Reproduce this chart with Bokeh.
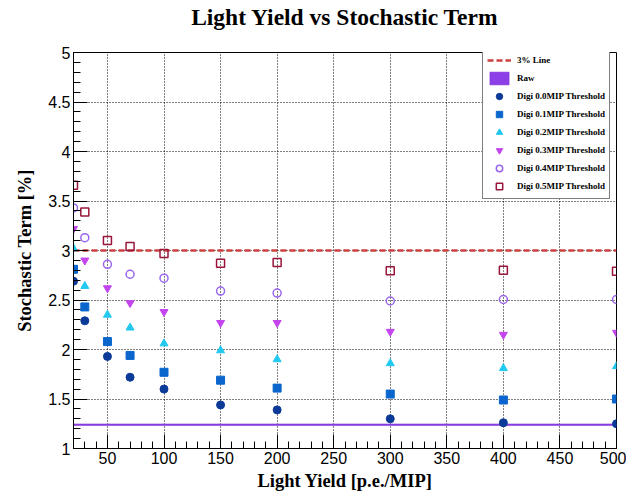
from bokeh.plotting import figure
from bokeh.models import (FixedTicker, CustomJSTickFormatter, Legend, LegendItem,
                          ColumnDataSource, Range1d, Title)
from bokeh.embed import file_html
from bokeh.resources import INLINE

# ---------------- data ----------------
light_yield = [20, 30, 50, 70, 100, 150, 200, 300, 400, 500]
digi_00 = [2.69, 2.29, 1.93, 1.72, 1.60, 1.44, 1.39, 1.30, 1.26, 1.25]
digi_01 = [2.81, 2.43, 2.08, 1.94, 1.77, 1.69, 1.61, 1.55, 1.49, 1.50]
digi_02 = [3.02, 2.64, 2.35, 2.22, 2.06, 1.99, 1.90, 1.86, 1.81, 1.83]
digi_03 = [3.22, 2.90, 2.62, 2.47, 2.38, 2.27, 2.27, 2.18, 2.15, 2.17]
digi_04 = [3.43, 3.13, 2.86, 2.76, 2.72, 2.59, 2.57, 2.49, 2.505, 2.505]
digi_05 = [3.66, 3.39, 3.10, 3.04, 2.97, 2.87, 2.88, 2.795, 2.80, 2.79]

raw_x = [20, 500]
raw_value = 1.24
raw_err = 0.008
line3_x = [20, 500]
line3_y = [3.0, 3.0]

title_text = "Light Yield vs Stochastic Term"
series_labels = ["Digi 0.0MIP Threshold", "Digi 0.1MIP Threshold", "Digi 0.2MIP Threshold",
                 "Digi 0.3MIP Threshold", "Digi 0.4MIP Threshold", "Digi 0.5MIP Threshold"]
x_major = [50, 100, 150, 200, 250, 300, 350, 400, 450, 500]
x_minor = list(range(20, 501, 10))
y_major = [1, 1.5, 2, 2.5, 3, 3.5, 4, 4.5, 5]
y_minor = [round(1 + 0.1 * i, 1) for i in range(41)]

SERIF = "Liberation Serif"
SANS = "Liberation Sans"

p = figure(width=626, height=492, output_backend="svg", toolbar_location=None,
           x_range=Range1d(20, 500), y_range=Range1d(1, 5), title=None,
           min_border_left=73, min_border_right=10, min_border_top=52, min_border_bottom=44)
p.frame_width = 543
p.frame_height = 396
p.background_fill_color = "white"
p.border_fill_color = "white"
p.outline_line_color = "black"
p.outline_line_width = 1

# spacer (nearest the frame) then the real title above it
spacer = Title(text=" ", text_font_size="1px", standoff=20)
main_title = Title(text=title_text, text_font=SERIF, text_font_style="bold",
                   text_font_size="23.5px", align="center", text_color="black", standoff=0)
p.add_layout(spacer, "above")
p.add_layout(main_title, "above")

# axes
for ax in (p.xaxis[0], p.yaxis[0]):
    ax.axis_line_color = "black"
    ax.major_tick_in = 14
    ax.major_tick_out = 0
    ax.minor_tick_in = 7
    ax.minor_tick_out = 0
    ax.major_tick_line_color = "black"
    ax.minor_tick_line_color = "black"
    ax.major_label_text_font = SANS
    ax.major_label_text_font_size = "16px"
    ax.major_label_text_color = "black"
    ax.axis_label_text_font = SERIF
    ax.axis_label_text_font_style = "bold"
    ax.axis_label_text_font_size = "18.5px"
    ax.axis_label_text_color = "black"
    ax.major_label_standoff = 3
    ax.formatter = CustomJSTickFormatter(code="return String(tick);")

p.xaxis.ticker = FixedTicker(ticks=x_major, minor_ticks=x_minor)
p.yaxis.ticker = FixedTicker(ticks=y_major, minor_ticks=y_minor)
p.xaxis.axis_label = "Light Yield [p.e./MIP]"
p.yaxis.axis_label = "Stochastic Term [%]"
p.xaxis.axis_label_standoff = 4
p.yaxis.axis_label_standoff = 10

p.xgrid.ticker = FixedTicker(ticks=x_major)
p.ygrid.ticker = FixedTicker(ticks=y_major)
for g in (p.xgrid[0], p.ygrid[0]):
    g.grid_line_color = "black"
    g.grid_line_dash = "1 2"
    g.grid_line_width = 1

# 3% line and Raw band
r_line = p.line(line3_x, line3_y, line_color="#cc4040", line_width=2.4, line_dash="6 3")
r_raw = p.hbar(y=[raw_value], height=2 * raw_err, left=raw_x[0], right=raw_x[1],
               fill_color="#8c3fe6", line_color="#7a30d0", line_width=0.5,
               hatch_pattern="checker", hatch_color="#c9a6ff", hatch_scale=3, hatch_weight=1)

colors = ["#0b3a98", "#0a66cc", "#21c8f0", "#c444ee", "#9966ee", "#99163a"]
markers = ["circle", "square", "triangle", "inverted_triangle", "circle", "square"]
filled = [True, True, True, True, False, False]
sizes = [8, 8, 8, 8, 8, 8]
series = [digi_00, digi_01, digi_02, digi_03, digi_04, digi_05]

renderers = []
for vals, c, m, f, s in zip(series, colors, markers, filled, sizes):
    src = ColumnDataSource(dict(x=light_yield, y=vals))
    if f:
        r = p.scatter("x", "y", source=src, marker=m, size=s, fill_color=c, line_color=c)
    else:
        r = p.scatter("x", "y", source=src, marker=m, size=s, fill_color=None,
                      line_color=c, line_width=1.5)
    renderers.append(r)

items = [LegendItem(label="3% Line", renderers=[r_line]),
         LegendItem(label="Raw", renderers=[r_raw])]
for lab, r in zip(series_labels, renderers):
    items.append(LegendItem(label=lab, renderers=[r]))

legend = Legend(items=items, location=(409, 249))
legend.label_text_font = SERIF
legend.label_text_font_style = "bold"
legend.label_text_font_size = "9px"
legend.label_text_color = "black"
legend.glyph_width = 24
legend.glyph_height = 16
legend.label_height = 16
legend.spacing = 2
legend.padding = 4
legend.margin = 0
legend.label_standoff = 6
legend.border_line_color = "black"
legend.border_line_width = 1
legend.background_fill_color = "white"
legend.background_fill_alpha = 1
p.add_layout(legend, "center")

open("out.html", "w").write(file_html(p, INLINE))
